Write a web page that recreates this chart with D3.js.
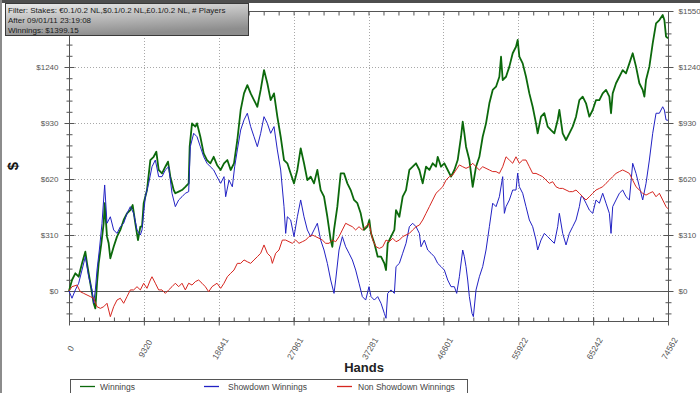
<!DOCTYPE html>
<html>
<head>
<meta charset="utf-8">
<script src="https://cdn.jsdelivr.net/npm/d3@7"></script>
<style>
  body { margin: 0; background: #fff; }
  svg { display: block; font-family: "Liberation Sans", Arial, sans-serif; }
</style>
</head>
<body>
<svg width="700" height="393"></svg>
<script>
// hands axis
const totalHands = 74562;
const xTicks = [0, 9320, 18641, 27961, 37281, 46601, 55922, 65242, 74562];
const xTickLabels = ['0', '9320', '18641', '27961', '37281', '46601', '55922', '65242', '74562'];

// dollar axis
const yTicks = [0, 310, 620, 930, 1240, 1550];
const yMinorStep = 62;

const headerLines = [
  'Filter: Stakes: €0.1/0.2 NL,$0.1/0.2 NL,£0.1/0.2 NL, # Players',
  'After 09/01/11 23:19:08',
  'Winnings: $1399.15'
];

const seriesNames = ['Winnings', 'Showdown Winnings', 'Non Showdown Winnings'];
const seriesColors = ['#0c690c', '#2222c4', '#d6261f'];

// [hands, dollars]
const winnings = [
  [0,0],[373,61],[789,98],[1203,79],[1618,153],[2033,218],[2241,153],[2656,43],[3071,-68],[3278,-96],[3486,43],[3693,153],[4025,264],[4316,375],[4440,487],[4730,301],[4938,264],[5145,181],[5560,245],[5975,301],[6390,338],[6805,393],[7220,430],[7635,448],[7925,476],[8257,375],[8589,282],[8880,356],[9087,356],[9295,486],[9709,559],[10124,725],[10539,743],[10871,771],[11162,670],[11577,651],[11992,688],[12324,716],[12615,633],[13030,559],[13237,541],[13652,550],[14067,559],[14482,577],[14897,596],[15021,799],[15312,928],[15727,910],[15934,928],[16349,854],[16764,762],[17179,725],[17594,707],[18009,743],[18424,698],
  [18880,670],[19294,707],[19709,725],[20124,670],[20539,707],[20954,836],[21369,1002],[21784,1094],[22199,1140],[22614,1094],[23029,1057],[23444,1020],[23859,1113],[24274,1223],[24689,1150],[25104,1057],[25519,1094],[25934,965],[26349,854],[26764,725],[27179,707],[27594,651],[28009,596],[28424,670],[28839,790],[29254,707],[29669,614],[30084,633],[30499,596],[30914,670],[31329,559],[31744,522],[32159,411],[32574,282],[32781,245],[32989,338],[33404,467],[33819,651],[34234,651],[34649,596],[35064,559],[35479,504],[35894,486],[36309,430],[36724,338],[37139,356],
  [37388,393],[37595,319],[38010,264],[38425,190],[38840,190],[39255,153],[39462,116],[39670,264],[40085,301],[40500,338],[40707,448],[41122,411],[41537,522],[41952,559],[42367,670],[42782,688],[43197,707],[43612,670],[44027,596],[44442,688],[44857,670],[45272,707],[45687,688],[45894,743],[46309,688],[46724,707],[47139,670],[47554,633],[47969,670],[48384,725],[48799,854],[49006,937],[49214,873],[49421,799],[49836,725],[50251,577],[50666,688],[51081,743],[51496,854],[51911,928],[52326,1039],[52741,1113],[53156,1131],[53571,1186],[53778,1297],[53986,1168],[54401,1186],[54816,1242],[55231,1316],
  [55643,1352],[55850,1390],[56058,1297],[56473,1260],[56888,1186],[57303,1094],[57718,1020],[58133,928],[58340,873],[58755,965],[59170,984],[59585,910],[60000,891],[60415,873],[60830,947],[61038,1002],[61453,873],[61868,836],[62283,873],[62698,910],[63113,965],[63528,1057],[63943,1076],[64358,1039],[64773,965],[65188,1002],[65603,1057],[66018,1057],[66433,1094],[66848,1113],[67263,1076],[67470,984],[67678,1094],[68093,1150],[68508,1186],[68923,1223],[69338,1205],[69753,1260],[70168,1316],[70583,1242],[70998,1150],[71413,1113],[71621,1076],[71828,1168],[72243,1242],[72658,1371],[73073,1482],[73488,1500],[73903,1528],[74110,1500],[74318,1408],[74562,1399]
];

const showdown = [
  [0,0],[373,-40],[789,6],[1203,43],[1618,116],[2033,190],[2448,79],[2863,6],[3071,-68],[3278,6],[3486,116],[3776,227],[4108,375],[4440,587],[4730,375],[5145,411],[5560,338],[5975,319],[6390,356],[6805,375],[7220,430],[7635,467],[8050,430],[8465,338],[8880,310],[9087,338],[9502,522],[9917,596],[10332,688],[10747,725],[11162,633],[11577,633],[11992,670],[12407,688],[12822,541],[13237,467],[13652,504],[14067,522],[14482,541],[14897,550],[15104,799],[15519,873],[15934,854],[16349,799],[16764,743],[17179,707],[17594,688],[18009,670],[18424,633],
  [18880,596],[19294,633],[19502,522],[19917,614],[20332,577],[20622,688],[20954,781],[21369,891],[21784,947],[22199,984],[22614,910],[23029,854],[23444,799],[23859,873],[24274,965],[24689,928],[25104,873],[25519,910],[25934,781],[26349,670],[26764,467],[26971,319],[27179,411],[27594,393],[28009,301],[28424,411],[28839,504],[29254,411],[29669,338],[30084,301],[30499,338],[30914,375],[31329,282],[31744,227],[32159,153],[32574,61],[32989,-13],[33196,61],[33611,227],[34026,301],[34441,245],[34856,209],[35271,172],[35686,116],[36101,43],[36516,-31],[36931,-50],[37344,24],
  [37595,-31],[38010,-50],[38425,-31],[38840,-68],[39255,-124],[39462,-151],[39670,-13],[40085,6],[40500,-13],[40707,135],[41122,153],[41537,209],[41952,264],[42367,356],[42782,375],[43197,356],[43612,319],[43819,245],[44234,282],[44649,227],[45064,209],[45479,190],[45894,153],[46309,135],[46724,116],[47139,61],[47554,24],[47969,24],[48260,-13],[48591,79],[49006,227],[49214,190],[49421,135],[49629,61],[49836,-31],[50168,-124],[50334,-142],[50666,6],[51081,79],[51496,135],[51911,227],[52326,356],[52741,486],[53156,467],[53571,522],[53986,633],[54193,430],[54401,467],[54816,504],[55231,559],
  [55643,559],[55850,652],[56058,577],[56473,541],[56888,467],[57303,393],[57718,356],[58133,282],[58340,227],[58755,282],[59170,319],[59585,301],[60000,282],[60415,264],[60830,356],[61038,430],[61453,319],[61868,255],[62283,319],[62698,356],[63113,393],[63528,467],[63735,522],[63943,522],[64358,486],[64773,448],[65188,430],[65603,504],[66018,486],[66433,541],[66848,486],[67263,430],[67470,319],[67678,467],[68093,504],[68508,541],[68923,559],[69338,522],[69753,504],[70168,707],[70583,651],[70998,577],[71413,504],[71828,596],[72243,725],[72658,873],[73073,984],[73488,984],[73903,1020],[74110,1002],[74318,947],[74562,945]
];

const nonShowdown = [
  [0,0],[373,24],[996,33],[1410,-4],[1825,-13],[2241,-22],[2656,-31],[3071,-40],[3486,-87],[3901,-96],[4316,-87],[4730,-68],[5145,-142],[5560,-87],[5975,-50],[6390,-40],[6805,-68],[7220,-31],[7635,6],[8050,6],[8465,24],[8880,6],[9295,43],[9709,15],[10124,61],[10332,79],[10747,43],[11162,6],[11577,6],[11992,-13],[12407,6],[12822,24],[13237,43],[13652,24],[14067,43],[14482,6],[14897,43],[15312,33],[15727,52],[16142,61],[16557,43],[16971,24],[17386,-4],[17801,24],[18424,43],
  [18880,15],[19294,43],[19709,79],[20124,98],[20539,116],[20954,153],[21369,153],[21784,172],[22199,162],[22614,153],[23029,172],[23444,190],[23859,209],[24274,255],[24689,209],[25104,190],[25312,153],[25727,209],[26142,227],[26557,282],[26971,282],[27386,273],[27801,264],[28216,282],[28631,264],[29046,273],[29461,282],[29876,301],[30291,310],[30706,301],[31120,292],[31535,282],[31950,264],[32365,264],[32780,282],[33195,273],[33610,301],[34025,338],[34440,375],[34855,365],[35270,356],[35685,338],[36100,356],[36515,338],[36930,356],[37344,375],
  [37803,282],[38218,245],[38633,236],[39048,245],[39462,282],[39877,273],[40292,292],[40707,273],[41122,282],[41537,301],[41952,310],[42367,319],[42782,338],[43197,356],[43612,365],[44027,393],[44442,430],[44857,467],[45272,504],[45687,541],[46102,559],[46517,577],[46932,614],[47347,633],[47762,642],[48177,670],[48591,698],[49006,688],[49421,679],[49836,688],[50251,707],[50666,688],[51081,670],[51496,688],[51911,679],[52326,670],[52741,661],[53156,661],[53571,651],[53986,688],[54401,743],[54816,725],[55231,707],[55643,743],
  [56058,707],[56473,725],[56888,725],[57303,688],[57718,651],[58133,651],[58548,642],[58963,633],[59378,614],[59793,596],[60208,605],[60623,577],[61038,568],[61453,568],[61868,559],[62283,550],[62698,550],[63113,559],[63528,541],[63943,522],[64358,504],[64773,522],[65188,541],[65603,559],[66018,568],[66433,577],[66848,596],[67263,614],[67678,633],[68093,651],[68508,661],[68923,670],[69338,661],[69753,651],[70168,614],[70583,577],[70998,559],[71413,541],[71828,531],[72243,541],[72658,550],[73073,522],[73488,541],[73903,504],[74318,467],[74562,455]
];

const svg = d3.select('svg');

const x = d3.scaleLinear().domain([0, totalHands]).range([69, 668]);
const y = d3.scaleLinear().domain([-166, 1550]).range([321, 11]);

const px = v => Math.round(v) + 0.5;

// window frame bits
svg.append('rect').attr('x', 0).attr('y', 0).attr('width', 700).attr('height', 3).attr('fill', '#4e4e4e');
svg.append('rect').attr('x', 0).attr('y', 0).attr('width', 2).attr('height', 393).attr('fill', '#8c8c8c');

// grid
svg.append('g')
  .selectAll('line')
  .data(xTicks.slice(1, -1))
  .join('line')
    .attr('x1', d => px(x(d)))
    .attr('x2', d => px(x(d)))
    .attr('y1', y(1550))
    .attr('y2', y.range()[0])
    .attr('stroke', '#a8a8a8')
    .attr('stroke-dasharray', '1,2')
  ;

svg.append('g')
  .selectAll('line')
  .data(yTicks.slice(1, -1))
  .join('line')
    .attr('x1', x(0))
    .attr('x2', x(totalHands))
    .attr('y1', d => px(y(d)))
    .attr('y2', d => px(y(d)))
    .attr('stroke', '#a8a8a8')
    .attr('stroke-dasharray', '1,2')
  ;

svg.append('line')
  .attr('x1', x(0)).attr('x2', x(totalHands))
  .attr('y1', px(y(0))).attr('y2', px(y(0)))
  .attr('stroke', '#5a5a5a');

// axes
const yMinor = d3.range(-124, 1551, yMinorStep).filter(d => !yTicks.includes(d));
const xMinor = d3.range(0, 41).map(i => totalHands * i / 40);

function styleAxis(g) {
  g.select('.domain').remove();
  g.selectAll('.tick line').attr('stroke', '#555');
  g.selectAll('.tick text').attr('fill', '#555').attr('font-size', 8)
    .attr('font-family', '"Liberation Sans", Arial, sans-serif');
}

// left labels: the top one sits under the filter box, so it is not shown
svg.append('g')
  .attr('transform', `translate(${px(x(0))},0)`)
  .call(d3.axisLeft(y).tickValues(yTicks).tickFormat(d => d === 1550 ? '' : '$' + d).tickSize(5).tickPadding(6))
  .call(styleAxis)
  .call(g => g.selectAll('.tick line').attr('x1', 5));

svg.append('g')
  .attr('transform', `translate(${px(x(0))},0)`)
  .call(d3.axisLeft(y).tickValues(yMinor).tickFormat('').tickSize(3))
  .call(styleAxis)
  .call(g => g.selectAll('.tick line').attr('x1', 3));

svg.append('g')
  .attr('transform', `translate(${px(x(totalHands))},0)`)
  .call(d3.axisRight(y).tickValues(yTicks).tickFormat(d => '$' + d).tickSize(5).tickPadding(5))
  .call(styleAxis)
  .call(g => g.selectAll('.tick line').attr('x1', -5));

svg.append('g')
  .attr('transform', `translate(${px(x(totalHands))},0)`)
  .call(d3.axisRight(y).tickValues(yMinor).tickFormat('').tickSize(3))
  .call(styleAxis)
  .call(g => g.selectAll('.tick line').attr('x1', -3));

svg.append('g')
  .attr('transform', `translate(0,${px(y.range()[0])})`)
  .call(d3.axisBottom(x).tickValues(xMinor).tickFormat('').tickSize(0))
  .call(styleAxis)
  .call(g => g.selectAll('.tick line').attr('y1', -4).attr('y2', 0));

svg.append('g')
  .attr('transform', `translate(0,${px(y.range()[0])})`)
  .call(d3.axisBottom(x).tickValues(xTicks).tickFormat((d, i) => xTickLabels[i]).tickSize(4))
  .call(styleAxis)
  .call(g => g.selectAll('.tick line').attr('y1', -4))
  .call(g => g.selectAll('.tick text')
    .attr('font-size', 8.5)
    .attr('y', 0).attr('dy', '0.35em')
    .attr('transform', 'translate(1,27) rotate(-60)'));

svg.append('g')
  .attr('transform', `translate(0,${px(y(1550))})`)
  .call(d3.axisTop(x).tickValues(xMinor).tickFormat('').tickSize(0))
  .call(styleAxis)
  .call(g => g.selectAll('.tick line').attr('y1', 0).attr('y2', 4));

// frame
const frame = svg.append('g').attr('stroke', '#555').attr('fill', 'none');
frame.append('line').attr('x1', px(x(0))).attr('x2', px(x(0))).attr('y1', y(1550)).attr('y2', y.range()[0] + 4);
frame.append('line').attr('x1', px(x(totalHands))).attr('x2', px(x(totalHands))).attr('y1', y(1550)).attr('y2', y.range()[0] + 4);
frame.append('line').attr('x1', x(0)).attr('x2', x(totalHands)).attr('y1', px(y.range()[0])).attr('y2', px(y.range()[0]));
frame.append('line').attr('x1', x(0)).attr('x2', x(totalHands)).attr('y1', px(y(1550))).attr('y2', px(y(1550)));

// series
const line = d3.line().x(d => x(d[0])).y(d => y(d[1]));
const allSeries = [winnings, showdown, nonShowdown];
const widths = [1.8, 1, 1];

svg.append('g')
  .selectAll('path')
  .data(allSeries)
  .join('path')
    .attr('d', line)
    .attr('fill', 'none')
    .attr('stroke', (d, i) => seriesColors[i])
    .attr('stroke-width', (d, i) => widths[i])
    .attr('stroke-linejoin', 'round')
  ;

// axis titles
svg.append('text')
  .attr('transform', 'translate(18,166) rotate(-90)')
  .attr('text-anchor', 'middle')
  .attr('font-size', 15)
  .attr('font-weight', 'bold')
  .attr('fill', '#111')
  .text('$');

svg.append('text')
  .attr('x', 364)
  .attr('y', 372)
  .attr('text-anchor', 'middle')
  .attr('font-size', 13)
  .attr('font-weight', 'bold')
  .attr('fill', '#222')
  .text('Hands');

// legend
const legend = svg.append('g');
legend.append('rect')
  .attr('x', 70.5).attr('y', 379.5)
  .attr('width', 397).attr('height', 20)
  .attr('fill', '#fff').attr('stroke', '#555');

const legendX = [80, 204, 337];
const legendItems = legend.selectAll('g')
  .data(seriesNames)
  .join('g')
    .attr('transform', (d, i) => `translate(${legendX[i]},386.5)`);

legendItems.append('line')
  .attr('x1', 0).attr('x2', 15)
  .attr('stroke', (d, i) => seriesColors[i])
  .attr('stroke-width', 1.3);

legendItems.append('text')
  .attr('x', (d, i) => i === 0 ? 20 : i === 1 ? 24 : 21)
  .attr('y', 3)
  .attr('font-size', 8.5)
  .attr('fill', '#444')
  .text(d => d);

// header box
const defs = svg.append('defs');
const grad = defs.append('linearGradient')
  .attr('id', 'hdr')
  .attr('x1', 0).attr('y1', 0).attr('x2', 0.35).attr('y2', 1);
grad.append('stop').attr('offset', 0).attr('stop-color', '#ececec');
grad.append('stop').attr('offset', 1).attr('stop-color', '#8d8d8d');

defs.append('clipPath').attr('id', 'hdrclip')
  .append('rect').attr('x', 5).attr('y', 3).attr('width', 243).attr('height', 34);

svg.append('rect')
  .attr('x', 5.5).attr('y', 3.5)
  .attr('width', 243).attr('height', 32)
  .attr('fill', 'url(#hdr)')
  .attr('stroke', '#3a3a3a');

svg.append('g')
  .attr('clip-path', 'url(#hdrclip)')
  .selectAll('text')
  .data(headerLines)
  .join('text')
    .attr('x', 8)
    .attr('y', (d, i) => 12.5 + i * 10)
    .attr('font-size', 8)
    .attr('fill', '#1a1a1a')
    .text(d => d);
</script>
</body>
</html>
